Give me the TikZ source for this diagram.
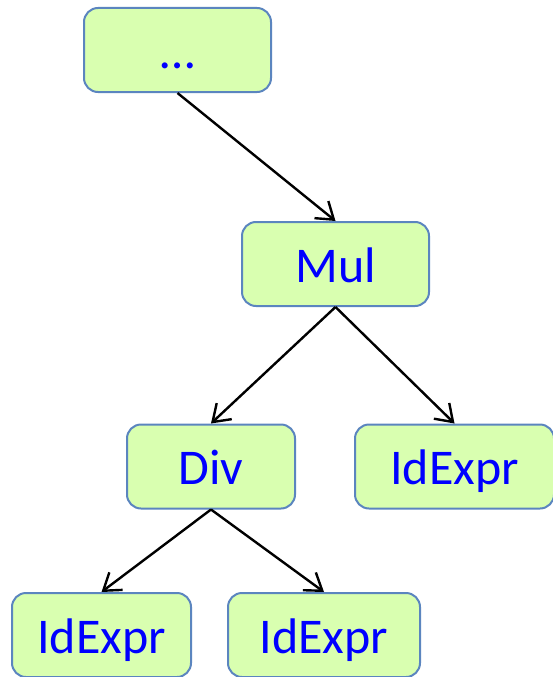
\documentclass[tikz,border=0pt]{standalone}
\usepackage{fontspec}
\setmainfont{Carlito}
\usetikzlibrary{arrows.meta}
\definecolor{boxfill}{HTML}{D9FFB0}
\definecolor{boxline}{HTML}{5B85BF}
\definecolor{txt}{HTML}{0000FF}
\tikzset{
  treebox/.style={draw=boxline, fill=boxfill, line width=2pt, rounded corners=14pt,
    minimum height=84pt, inner sep=0pt, text=txt,
    font=\fontsize{50}{60}\selectfont, text height=40pt, text depth=4pt},
  edge/.style={line width=2.4pt, -{Straight Barb[length=16pt,width=22pt,line width=2.4pt]}}
}
\begin{document}
\begin{tikzpicture}[x=1pt,y=-1pt]
\useasboundingbox (0,0) rectangle (553,677);
\node[treebox, minimum width=187pt] (top) at (177.5,50) {…};
\node[treebox, minimum width=187pt] (mul) at (335.5,264) {Mul};
\node[treebox, minimum width=168pt] (div) at (211,466.5) {Div};
\node[treebox, minimum width=199pt] (id1) at (454.5,466.5) {IdExpr};
\node[treebox, minimum width=179pt] (id2) at (101.5,635) {IdExpr};
\node[treebox, minimum width=192pt] (id3) at (324,635) {IdExpr};
\draw[edge] (top.south) -- (mul.north);
\draw[edge] (mul.south) -- (div.north);
\draw[edge] (mul.south) -- (id1.north);
\draw[edge] (div.south) -- (id2.north);
\draw[edge] (div.south) -- (id3.north);
\end{tikzpicture}
\end{document}
